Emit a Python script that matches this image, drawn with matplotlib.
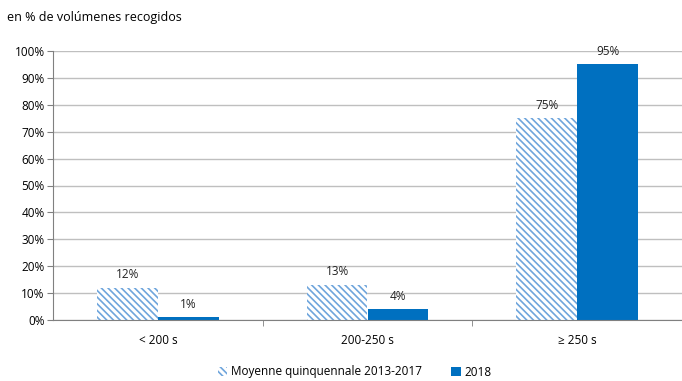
import numpy as np
import matplotlib.pyplot as plt
from matplotlib.ticker import FixedLocator

# data
categories = ['< 200 s', '200-250 s', '≥ 250 s']
moyenne = [12, 13, 75]
y2018 = [1, 4, 95]
series_names = ['Moyenne quinquennale 2013-2017', '2018']

plt.rcParams['font.family'] = ['Open Sans', 'DejaVu Sans']
plt.rcParams['hatch.linewidth'] = 1.2
plt.rcParams['hatch.color'] = '#6fa5dc'

fig = plt.figure(figsize=(6.82, 3.81), dpi=100)
ax = fig.add_axes([53 / 682, 61 / 381, 629 / 682, 269 / 381])

x = np.arange(len(categories))
w = 0.29
b1 = ax.bar(x - w / 2, moyenne, w, color='white', edgecolor='#6fa5dc',
            linewidth=0, hatch='\\\\\\\\\\', label=series_names[0], zorder=2)
b2 = ax.bar(x + w / 2, y2018, w, color='#0070c0', label=series_names[1], zorder=2)

for bars in (b1, b2):
    for r in bars:
        ax.text(r.get_x() + r.get_width() / 2, r.get_height() + 2.5,
                f'{r.get_height():.0f}%', ha='center', va='bottom',
                fontsize=8.5, color='#222222')

ax.set_xlim(-0.5, 2.5)
ax.set_ylim(0, 100)
ax.set_yticks(np.arange(0, 101, 10))
ax.set_yticklabels([f'{v}%' for v in range(0, 101, 10)], fontsize=8.5)
ax.yaxis.grid(True, color='#bfbfbf', linewidth=1, zorder=0)
ax.set_axisbelow(True)

ax.set_xticks(x)
ax.set_xticklabels(categories, fontsize=8.5)
ax.tick_params(axis='x', length=0, pad=10)
ax.xaxis.set_minor_locator(FixedLocator([0.5, 1.5]))
ax.tick_params(axis='x', which='minor', length=4, color='#808080')
ax.tick_params(axis='y', length=4, color='#808080', pad=2)

for s in ['top', 'right']:
    ax.spines[s].set_visible(False)
ax.spines['left'].set_color('#808080')
ax.spines['bottom'].set_color('#808080')

fig.text(7 / 682, 1 - 18 / 381, 'en % de volúmenes recogidos', fontsize=9,
         va='center', ha='left')

fig.legend(loc='center', bbox_to_anchor=(0.52, 1 - 372 / 381), ncol=2,
           frameon=False, fontsize=8.5, handlelength=0.8, handleheight=0.8,
           handletextpad=0.3, columnspacing=2.5)

fig.savefig('out.png', dpi=100)
